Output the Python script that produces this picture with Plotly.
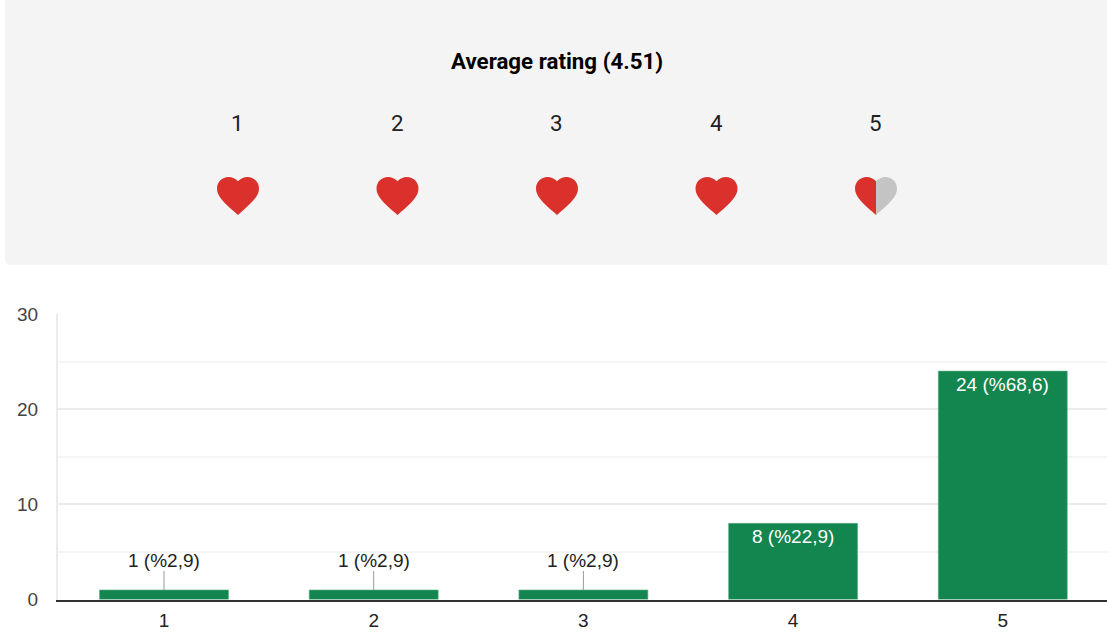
import plotly.graph_objects as go

# ---- data ----
categories = [1, 2, 3, 4, 5]
counts = [1, 1, 1, 8, 24]
labels = ["1 (%2,9)", "1 (%2,9)", "1 (%2,9)", "8 (%22,9)", "24 (%68,6)"]
label_inside = [False, False, False, True, True]
y_ticks = [0, 10, 20, 30]
heart_numbers = ["1", "2", "3", "4", "5"]
heart_right_filled = [True, True, True, True, False]
title_text = "Average rating (4.51)"

W, H = 1107, 635
BAR = "#13854e"
SANS = "Liberation Sans, Arial, sans-serif"
ROBOTO = "Roboto, sans-serif"

heart_cx = [238, 397.5, 557, 716.5, 876]

HEART = [(12, 21.35), (10.55, 20.03),
         (5.4, 15.36), (2, 12.28), (2, 8.5),
         (2, 5.42), (4.42, 3), (7.5, 3),
         (9.24, 3), (10.91, 3.81), (12, 5.09)]


def pt(cx, p, side):
    return f"{cx + side * (p[0] - 12) * 2.1:.2f},{177 + (p[1] - 3) * 2.07:.2f}"


def half_heart(cx, side):
    s = [pt(cx, p, side) for p in HEART]
    return (f"M{s[0]} L{s[1]} C{s[2]} {s[3]} {s[4]} C{s[5]} {s[6]} {s[7]} "
            f"C{s[8]} {s[9]} {s[10]} Z")


def full_heart(cx):
    s = [pt(cx, p, 1) for p in HEART]
    r = [pt(cx, p, -1) for p in reversed(HEART)]
    return (f"M{s[0]} L{s[1]} C{s[2]} {s[3]} {s[4]} C{s[5]} {s[6]} {s[7]} "
            f"C{s[8]} {s[9]} {s[10]} "
            f"C{r[1]} {r[2]} {r[3]} C{r[4]} {r[5]} {r[6]} C{r[7]} {r[8]} {r[9]} L{r[10]} Z")


fig = go.Figure()
fig.add_trace(go.Bar(
    x=categories, y=counts, width=0.615,
    marker=dict(color=BAR, line=dict(color="#5fae8a", width=0.6)),
    hoverinfo="skip", showlegend=False,
))
# invisible trace so that the overlay pixel axes exist
fig.add_trace(go.Scatter(x=[0], y=[0], xaxis="x2", yaxis="y2", mode="markers",
                         marker=dict(opacity=0), hoverinfo="skip", showlegend=False))

shapes = [dict(type="path", layer="below", xref="x2", yref="y2",
               path="M5,-10 L5,259 Q5,265 11,265 L1120,265 L1120,-10 Z",
               fillcolor="#f4f4f4", line=dict(width=0))]
for cx, full in zip(heart_cx, heart_right_filled):
    if full:
        shapes.append(dict(type="path", xref="x2", yref="y2", path=full_heart(cx),
                           fillcolor="#db312d", line=dict(width=0)))
    else:
        shapes.append(dict(type="path", xref="x2", yref="y2", path=half_heart(cx, 1),
                           fillcolor="#db312d", line=dict(width=0)))
        shapes.append(dict(type="path", xref="x2", yref="y2", path=half_heart(cx, -1),
                           fillcolor="#c4c4c4", line=dict(width=0)))

ann = [dict(text=f"<b>{title_text}</b>", xref="x2", yref="y2", x=557, y=61, showarrow=False,
            font=dict(family=ROBOTO, size=22.3, color="#000000"))]
for cx, n in zip(heart_cx, heart_numbers):
    ann.append(dict(text=n, xref="x2", yref="y2", x=cx - 0.5, y=123, showarrow=False,
                    font=dict(family=ROBOTO, size=22.3, color="#202124")))
for c, v, lab, inside in zip(categories, counts, labels, label_inside):
    if inside:
        ann.append(dict(text=lab, x=c, y=v, yref="y", xref="x", showarrow=False,
                        yanchor="top", yshift=-1,
                        font=dict(family=SANS, size=19, color="#ffffff")))
    else:
        ann.append(dict(text=lab, x=c, y=v, yref="y", xref="x", showarrow=True,
                        arrowhead=0, arrowwidth=1, arrowcolor="#999999",
                        ax=0, ay=-19, standoff=0, yanchor="bottom",
                        borderpad=0, borderwidth=0,
                        font=dict(family=SANS, size=19, color="#222222")))

fig.update_layout(
    width=W, height=H, margin=dict(l=0, r=0, t=0, b=0),
    paper_bgcolor="#ffffff", plot_bgcolor="rgba(0,0,0,0)",
    shapes=shapes, annotations=ann,
    xaxis=dict(domain=[58 / W, 1], range=[0.4945, 5.497], tickmode="array", automargin=False,
               tickvals=categories, ticktext=[str(c) for c in categories],
               showgrid=False, zeroline=False, showline=True, linecolor="#333333", linewidth=2,
               ticks="", ticklabelstandoff=3,
               tickfont=dict(family=SANS, size=19, color="#222222")),
    yaxis=dict(domain=[(H - 599.5) / H, (H - 314) / H], range=[0, 30], tickmode="array", automargin=False,
               tickvals=y_ticks, showgrid=True, gridcolor="#ebebeb", gridwidth=2,
               minor=dict(tickmode="array", tickvals=[5, 15, 25], showgrid=True,
                          gridcolor="#f4f4f4", gridwidth=1.5, ticks=""),
               zeroline=False, showline=True, linecolor="#ebebeb", linewidth=2,
               ticks="", ticklabelstandoff=14,
               tickfont=dict(family=SANS, size=19, color="#444444")),
    xaxis2=dict(domain=[0, 1], range=[0, W], visible=False, anchor="y2", automargin=False),
    yaxis2=dict(domain=[0, 1], range=[H, 0], visible=False, anchor="x2", automargin=False),
)
fig.write_html("out.html", config={"displayModeBar": False},
               post_script="document.body.style.margin='0';")
